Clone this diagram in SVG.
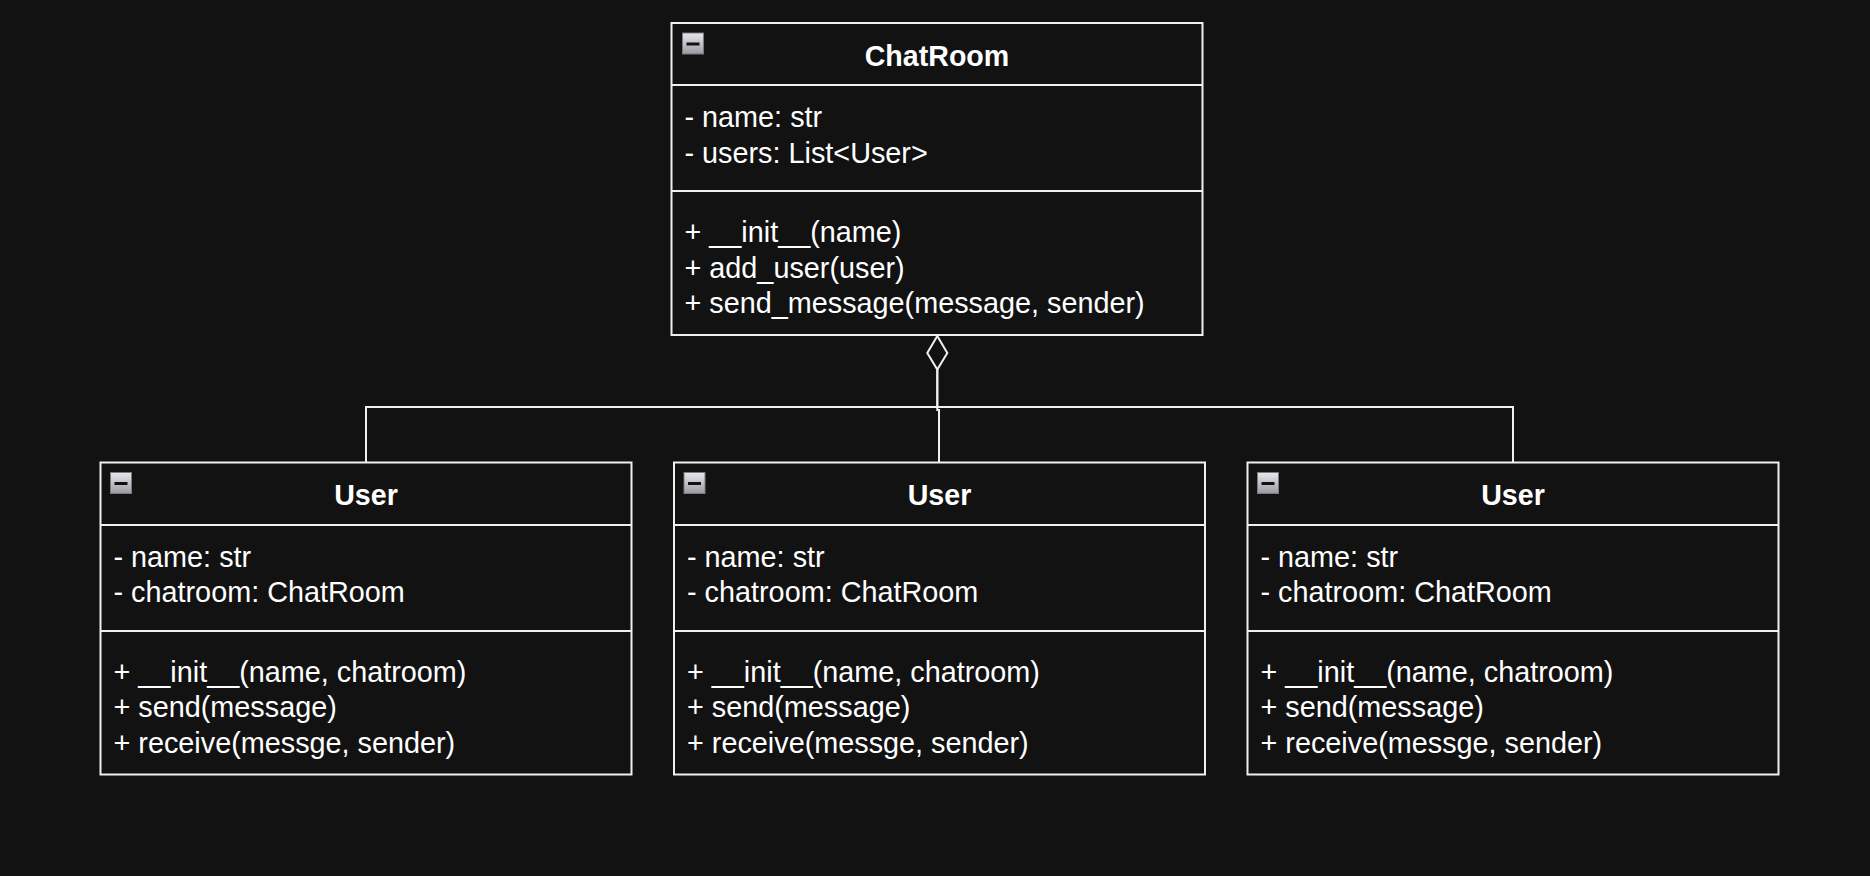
<svg xmlns="http://www.w3.org/2000/svg" width="1870" height="876" viewBox="0 0 1870 876">
<defs>
<linearGradient id="ig" x1="0" y1="0" x2="0" y2="1">
<stop offset="0" stop-color="#e8e8ec"/>
<stop offset="1" stop-color="#9a9aa2"/>
</linearGradient>
<style>
.box{fill:#121212;stroke:#f0f0f0;stroke-width:2}
.sep{stroke:#f0f0f0;stroke-width:2}
.edge{fill:none;stroke:#f0f0f0;stroke-width:2}
.t{font-family:"Liberation Sans",Arial,sans-serif;font-size:28.8px;fill:#ffffff}
.h{font-family:"Liberation Sans",Arial,sans-serif;font-size:28.6px;font-weight:bold;fill:#ffffff;text-anchor:middle}
.ic{fill:url(#ig);stroke:#7a7a80;stroke-width:1}
.icm{fill:#111111}
</style>
</defs>
<rect width="1870" height="876" fill="#121212"/>
<g id="connectors">
<path class="edge" d="M366 462.5 V407 H937.3 V369.5"/>
<path class="edge" d="M1513 462.5 V407 H937.3"/>
<path class="edge" d="M939 462.5 V410 H937.3 V369.5"/>
<path class="edge" d="M937.3 336 L947.3 353 L937.3 369.5 L927.3 353 Z"/>
</g>
<g id="chatroom">
<rect class="box" x="671.5" y="23" width="531" height="312"/>
<line class="sep" x1="671.5" y1="85" x2="1202.5" y2="85"/>
<line class="sep" x1="671.5" y1="191" x2="1202.5" y2="191"/>
<rect class="ic" x="682.5" y="33" width="21" height="21"/>
<rect class="icm" x="686.5" y="42.5" width="13" height="3"/>
<text class="h" x="937" y="66">ChatRoom</text>
<text class="t" x="684.5" y="127">- name: str</text>
<text class="t" x="684.5" y="162.5">- users: List&lt;User&gt;</text>
<text class="t" x="684.5" y="242">+ __init__(name)</text>
<text class="t" x="684.5" y="277.5">+ add_user(user)</text>
<text class="t" x="684.5" y="313">+ send_message(message, sender)</text>
</g>
<g id="user1">
<rect class="box" x="100.5" y="462.5" width="531" height="312"/>
<line class="sep" x1="100.5" y1="525" x2="631.5" y2="525"/>
<line class="sep" x1="100.5" y1="631" x2="631.5" y2="631"/>
<rect class="ic" x="110.5" y="472.5" width="21" height="21"/>
<rect class="icm" x="114.5" y="482" width="13" height="3"/>
<text class="h" x="366" y="505">User</text>
<text class="t" x="113.5" y="566.5">- name: str</text>
<text class="t" x="113.5" y="602">- chatroom: ChatRoom</text>
<text class="t" x="113.5" y="681.5">+ __init__(name, chatroom)</text>
<text class="t" x="113.5" y="717">+ send(message)</text>
<text class="t" x="113.5" y="752.5">+ receive(messge, sender)</text>
</g>
<g id="user2">
<rect class="box" x="674" y="462.5" width="531" height="312"/>
<line class="sep" x1="674" y1="525" x2="1205" y2="525"/>
<line class="sep" x1="674" y1="631" x2="1205" y2="631"/>
<rect class="ic" x="684" y="472.5" width="21" height="21"/>
<rect class="icm" x="688" y="482" width="13" height="3"/>
<text class="h" x="939.5" y="505">User</text>
<text class="t" x="687" y="566.5">- name: str</text>
<text class="t" x="687" y="602">- chatroom: ChatRoom</text>
<text class="t" x="687" y="681.5">+ __init__(name, chatroom)</text>
<text class="t" x="687" y="717">+ send(message)</text>
<text class="t" x="687" y="752.5">+ receive(messge, sender)</text>
</g>
<g id="user3">
<rect class="box" x="1247.5" y="462.5" width="531" height="312"/>
<line class="sep" x1="1247.5" y1="525" x2="1778.5" y2="525"/>
<line class="sep" x1="1247.5" y1="631" x2="1778.5" y2="631"/>
<rect class="ic" x="1257.5" y="472.5" width="21" height="21"/>
<rect class="icm" x="1261.5" y="482" width="13" height="3"/>
<text class="h" x="1513" y="505">User</text>
<text class="t" x="1260.5" y="566.5">- name: str</text>
<text class="t" x="1260.5" y="602">- chatroom: ChatRoom</text>
<text class="t" x="1260.5" y="681.5">+ __init__(name, chatroom)</text>
<text class="t" x="1260.5" y="717">+ send(message)</text>
<text class="t" x="1260.5" y="752.5">+ receive(messge, sender)</text>
</g>
</svg>
